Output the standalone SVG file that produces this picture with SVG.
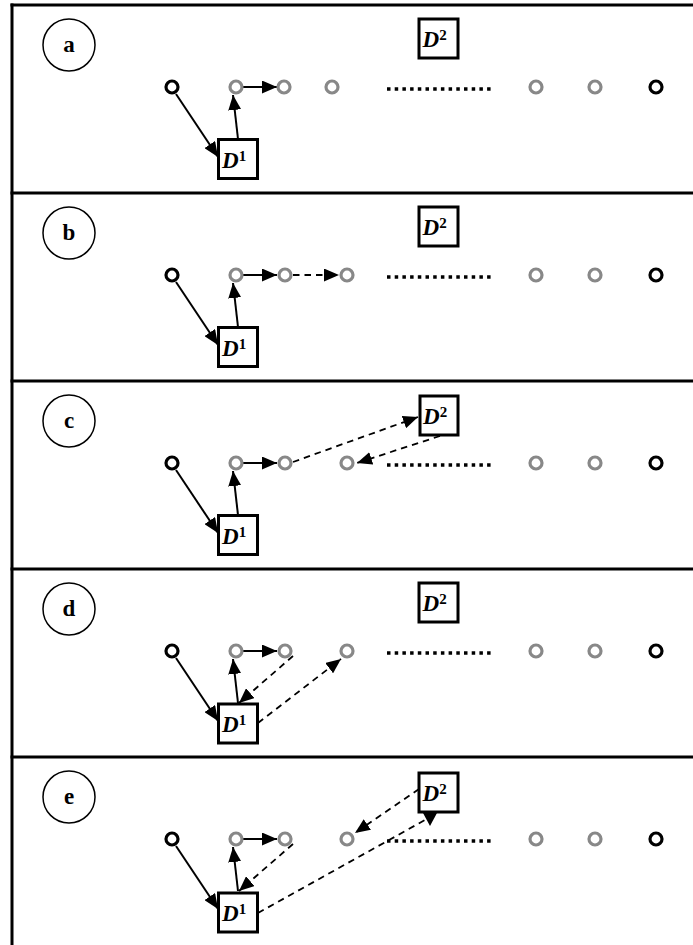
<svg xmlns="http://www.w3.org/2000/svg" width="693" height="945" viewBox="0 0 693 945">
<style>
.frame{stroke:#000;stroke-width:3;fill:none}
.lbl{fill:#fff;stroke:#000;stroke-width:1.5}
.lt{font-family:"Liberation Serif",serif;font-weight:bold;font-size:23px;text-anchor:middle}
.nb{fill:#fff;stroke:#000;stroke-width:3.2}
.ng{fill:#fff;stroke:#888;stroke-width:3.2}
.box{fill:#fff;stroke:#000;stroke-width:3}
.bt{font-family:"Liberation Serif",serif;font-weight:bold;font-style:italic;font-size:23px}
.sup{font-style:normal;font-size:15px}
.sol{stroke:#000;stroke-width:2;fill:none}
.dsh{stroke:#000;stroke-width:1.8;fill:none;stroke-dasharray:6.5 5}
.dot{stroke:#000;stroke-width:3.5;fill:none;stroke-dasharray:3.5 4.2}
</style>
<defs>
<marker id="ah" viewBox="0 0 15 13" refX="15" refY="6.5" markerWidth="15" markerHeight="13" markerUnits="userSpaceOnUse" orient="auto"><path d="M0,0 L15,6.5 L0,13 z" fill="#000"/></marker>
</defs>
<g id="frame">
<line class="frame" x1="12" y1="3.5" x2="12" y2="945"/>
<line class="frame" x1="10.5" y1="5" x2="693" y2="5"/>
<line class="frame" x1="10.5" y1="193" x2="693" y2="193"/>
<line class="frame" x1="10.5" y1="381" x2="693" y2="381"/>
<line class="frame" x1="10.5" y1="569" x2="693" y2="569"/>
<line class="frame" x1="10.5" y1="757" x2="693" y2="757"/>
</g>
<g id="labels">
<g id="label-a"><circle class="lbl" cx="69" cy="45" r="26"/><text class="lt" x="69" y="52">a</text></g>
<g id="label-b"><circle class="lbl" cx="69" cy="233" r="26"/><text class="lt" x="69" y="240">b</text></g>
<g id="label-c"><circle class="lbl" cx="69" cy="421" r="26"/><text class="lt" x="69" y="428">c</text></g>
<g id="label-d"><circle class="lbl" cx="69" cy="609" r="26"/><text class="lt" x="69" y="616">d</text></g>
<g id="label-e"><circle class="lbl" cx="69" cy="797" r="26"/><text class="lt" x="69" y="804">e</text></g>
</g>
<g id="connectors">
<!-- panel a -->
<line class="sol" x1="176" y1="94" x2="218" y2="157" marker-end="url(#ah)"/>
<line class="sol" x1="238" y1="139" x2="233" y2="95" marker-end="url(#ah)"/>
<line class="sol" x1="243" y1="87" x2="277" y2="87" marker-end="url(#ah)"/>
<line class="dot" x1="387" y1="89" x2="492" y2="89"/>
<!-- panel b -->
<line class="sol" x1="176" y1="282" x2="218" y2="345" marker-end="url(#ah)"/>
<line class="sol" x1="238" y1="327" x2="233" y2="283" marker-end="url(#ah)"/>
<line class="sol" x1="243" y1="275" x2="277" y2="275" marker-end="url(#ah)"/>
<line class="dsh" x1="293" y1="275" x2="339" y2="275" marker-end="url(#ah)"/>
<line class="dot" x1="387" y1="277" x2="492" y2="277"/>
<!-- panel c -->
<line class="sol" x1="176" y1="470" x2="218" y2="533" marker-end="url(#ah)"/>
<line class="sol" x1="238" y1="515" x2="233" y2="471" marker-end="url(#ah)"/>
<line class="sol" x1="243" y1="463" x2="277" y2="463" marker-end="url(#ah)"/>
<line class="dsh" x1="293" y1="462" x2="418" y2="417" marker-end="url(#ah)"/>
<line class="dsh" x1="440" y1="436" x2="357" y2="463" marker-end="url(#ah)"/>
<line class="dot" x1="387" y1="465" x2="492" y2="465"/>
<!-- panel d -->
<line class="sol" x1="176" y1="658" x2="218" y2="721" marker-end="url(#ah)"/>
<line class="sol" x1="238" y1="703" x2="233" y2="659" marker-end="url(#ah)"/>
<line class="sol" x1="243" y1="651" x2="277" y2="651" marker-end="url(#ah)"/>
<line class="dsh" x1="293" y1="656" x2="239" y2="703" marker-end="url(#ah)"/>
<line class="dsh" x1="258" y1="723" x2="341" y2="659" marker-end="url(#ah)"/>
<line class="dot" x1="387" y1="653" x2="492" y2="653"/>
<!-- panel e -->
<line class="sol" x1="176" y1="846" x2="218" y2="909" marker-end="url(#ah)"/>
<line class="sol" x1="238" y1="891" x2="233" y2="847" marker-end="url(#ah)"/>
<line class="sol" x1="243" y1="839" x2="277" y2="839" marker-end="url(#ah)"/>
<line class="dsh" x1="293" y1="844" x2="239" y2="891" marker-end="url(#ah)"/>
<line class="dsh" x1="258" y1="913" x2="425" y2="820"/>
<polygon points="423,813 437,813 430,826" fill="#000"/>
<line class="dsh" x1="419" y1="789" x2="355" y2="833" marker-end="url(#ah)"/>
<line class="dot" x1="387" y1="841" x2="492" y2="841"/>
</g>
<g id="nodes">
<g id="nodes-a">
<circle class="nb" cx="172" cy="87" r="6"/>
<circle class="ng" cx="236" cy="87" r="6"/>
<circle class="ng" cx="284" cy="87" r="6"/>
<circle class="ng" cx="332" cy="87" r="6"/>
<circle class="ng" cx="536" cy="87" r="6"/>
<circle class="ng" cx="595" cy="87" r="6"/>
<circle class="nb" cx="656" cy="87" r="6"/>
</g>
<g id="nodes-b">
<circle class="nb" cx="172" cy="275" r="6"/>
<circle class="ng" cx="236" cy="275" r="6"/>
<circle class="ng" cx="285" cy="275" r="6"/>
<circle class="ng" cx="347" cy="275" r="6"/>
<circle class="ng" cx="536" cy="275" r="6"/>
<circle class="ng" cx="595" cy="275" r="6"/>
<circle class="nb" cx="656" cy="275" r="6"/>
</g>
<g id="nodes-c">
<circle class="nb" cx="172" cy="463" r="6"/>
<circle class="ng" cx="236" cy="463" r="6"/>
<circle class="ng" cx="285" cy="463" r="6"/>
<circle class="ng" cx="347" cy="463" r="6"/>
<circle class="ng" cx="536" cy="463" r="6"/>
<circle class="ng" cx="595" cy="463" r="6"/>
<circle class="nb" cx="656" cy="463" r="6"/>
</g>
<g id="nodes-d">
<circle class="nb" cx="172" cy="651" r="6"/>
<circle class="ng" cx="236" cy="651" r="6"/>
<circle class="ng" cx="285" cy="651" r="6"/>
<circle class="ng" cx="347" cy="651" r="6"/>
<circle class="ng" cx="536" cy="651" r="6"/>
<circle class="ng" cx="595" cy="651" r="6"/>
<circle class="nb" cx="656" cy="651" r="6"/>
</g>
<g id="nodes-e">
<circle class="nb" cx="172" cy="839" r="6"/>
<circle class="ng" cx="236" cy="839" r="6"/>
<circle class="ng" cx="285" cy="839" r="6"/>
<circle class="ng" cx="347" cy="839" r="6"/>
<circle class="ng" cx="536" cy="839" r="6"/>
<circle class="ng" cx="595" cy="839" r="6"/>
<circle class="nb" cx="656" cy="839" r="6"/>
</g>
</g>
<g id="boxes">
<g id="D1-a"><rect class="box" x="218.5" y="139.5" width="39" height="39"/><text class="bt" x="222" y="168">D<tspan class="sup" dy="-7">1</tspan></text></g>
<g id="D2-a"><rect class="box" x="419" y="19" width="39" height="39"/><text class="bt" x="422.5" y="47">D<tspan class="sup" dy="-7">2</tspan></text></g>
<g id="D1-b"><rect class="box" x="218.5" y="327.5" width="39" height="39"/><text class="bt" x="222" y="356">D<tspan class="sup" dy="-7">1</tspan></text></g>
<g id="D2-b"><rect class="box" x="419" y="207" width="39" height="39"/><text class="bt" x="422.5" y="235">D<tspan class="sup" dy="-7">2</tspan></text></g>
<g id="D1-c"><rect class="box" x="218.5" y="515.5" width="39" height="39"/><text class="bt" x="222" y="544">D<tspan class="sup" dy="-7">1</tspan></text></g>
<g id="D2-c"><rect class="box" x="420" y="396" width="38" height="39"/><text class="bt" x="423" y="424">D<tspan class="sup" dy="-7">2</tspan></text></g>
<g id="D1-d"><rect class="box" x="218.5" y="704" width="39" height="39"/><text class="bt" x="222" y="732">D<tspan class="sup" dy="-7">1</tspan></text></g>
<g id="D2-d"><rect class="box" x="419" y="583" width="39" height="39"/><text class="bt" x="422.5" y="611">D<tspan class="sup" dy="-7">2</tspan></text></g>
<g id="D1-e"><rect class="box" x="218.5" y="893" width="39" height="39"/><text class="bt" x="222" y="921">D<tspan class="sup" dy="-7">1</tspan></text></g>
<g id="D2-e"><rect class="box" x="419" y="773" width="39" height="39"/><text class="bt" x="422.5" y="801">D<tspan class="sup" dy="-7">2</tspan></text></g>
</g>
</svg>
